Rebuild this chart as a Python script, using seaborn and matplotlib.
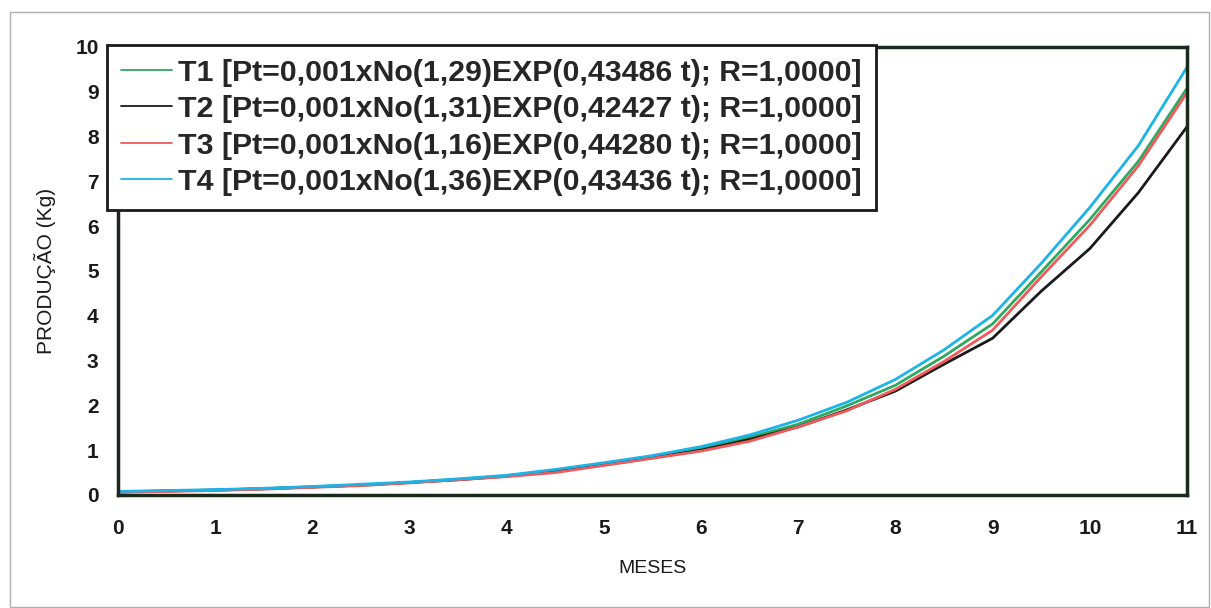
import matplotlib
matplotlib.use("Agg")
import matplotlib.pyplot as plt
import seaborn as sns
import pandas as pd
from matplotlib.patches import Rectangle

# ---- data ----
meses = [0, 0.5, 1, 1.5, 2, 2.5, 3, 3.5, 4, 4.5, 5, 5.5, 6, 6.5, 7, 7.5, 8, 8.5, 9, 9.5, 10, 10.5, 11]
t1 = [0.07, 0.09, 0.11, 0.14, 0.18, 0.22, 0.28, 0.35, 0.43, 0.55, 0.70, 0.86, 1.03, 1.29, 1.58, 1.99, 2.45, 3.10, 3.82, 4.98, 6.15, 7.45, 9.08]
t2 = [0.07, 0.09, 0.11, 0.14, 0.18, 0.22, 0.28, 0.34, 0.42, 0.53, 0.67, 0.83, 1.00, 1.24, 1.52, 1.90, 2.32, 2.92, 3.50, 4.55, 5.50, 6.75, 8.22]
t3 = [0.06, 0.08, 0.10, 0.13, 0.17, 0.21, 0.27, 0.34, 0.41, 0.50, 0.66, 0.82, 0.98, 1.20, 1.52, 1.88, 2.36, 2.98, 3.68, 4.87, 6.02, 7.35, 8.98]
t4 = [0.08, 0.10, 0.12, 0.15, 0.19, 0.24, 0.29, 0.36, 0.44, 0.57, 0.72, 0.88, 1.08, 1.34, 1.67, 2.07, 2.58, 3.24, 4.01, 5.17, 6.42, 7.80, 9.55]

labels = [
    "T1 [Pt=0,001xNo(1,29)EXP(0,43486 t); R=1,0000]",
    "T2 [Pt=0,001xNo(1,31)EXP(0,42427 t); R=1,0000]",
    "T3 [Pt=0,001xNo(1,16)EXP(0,44280 t); R=1,0000]",
    "T4 [Pt=0,001xNo(1,36)EXP(0,43436 t); R=1,0000]",
]
colors = ["#2fa860", "#1a1a1a", "#f05a5a", "#1ab4e8"]
x_ticks = list(range(0, 12))
y_ticks = list(range(0, 11))

rows = []
for lab, vals in zip(labels, [t1, t2, t3, t4]):
    for m, v in zip(meses, vals):
        rows.append({"MESES": m, "PRODUCAO": v, "Serie": lab})
df = pd.DataFrame(rows)

sns.set_style("white")
plt.rcParams["font.family"] = ["Liberation Sans", "DejaVu Sans"]

fig = plt.figure(figsize=(12.11, 6.08), dpi=100)
ax = fig.add_axes([118 / 1211, 1 - 495 / 608, (1187 - 118) / 1211, (495 - 47) / 608])

sns.lineplot(data=df, x="MESES", y="PRODUCAO", hue="Serie", hue_order=labels,
             palette=colors, linewidth=2.0, ax=ax, legend=True)

ax.set_xlim(0, 11)
ax.set_ylim(0, 10)
ax.set_xticks(x_ticks)
ax.set_yticks(y_ticks)
ax.set_xticklabels([str(v) for v in x_ticks], fontsize=15, fontweight="bold", color="#1a1a1a")
ax.set_yticklabels([str(v) for v in y_ticks], fontsize=15, fontweight="bold", color="#1a1a1a")
ax.tick_params(axis="x", direction="inout", length=8, width=1, color="#333333", pad=13)
ax.tick_params(axis="y", direction="inout", length=8, width=1, color="#333333", pad=10)
ax.set_xlabel("MESES", fontsize=14, color="#1a1a1a", labelpad=16)
ax.set_ylabel("PRODUÇÃO (Kg)", fontsize=15, color="#1a1a1a", labelpad=14)

for s in ax.spines.values():
    s.set_visible(True)
    s.set_color("#1a2a1a")
    s.set_linewidth(2.5)

handles, labs = ax.get_legend_handles_labels()
leg = ax.legend(handles, labs, loc="upper left", bbox_to_anchor=(-0.0103, 1.0045),
                frameon=True, fancybox=False, framealpha=1, edgecolor="#1a1a1a",
                prop={"family": ["Liberation Sans", "DejaVu Sans"], "weight": "bold", "size": 21.8},
                handlelength=1.7, handletextpad=0.2, labelspacing=0.28, borderpad=0.45,
                borderaxespad=0)
leg.get_frame().set_linewidth(2)
leg.set_zorder(10)
for h in leg.get_lines():
    h.set_linewidth(1.3)

fig.patches.append(Rectangle((10 / 1211, 0.002), 1199 / 1211, 1 - 12 / 608 - 0.002,
                             transform=fig.transFigure, fill=False,
                             edgecolor="#b0b0b0", linewidth=1))

fig.savefig("out.png", dpi=100)
